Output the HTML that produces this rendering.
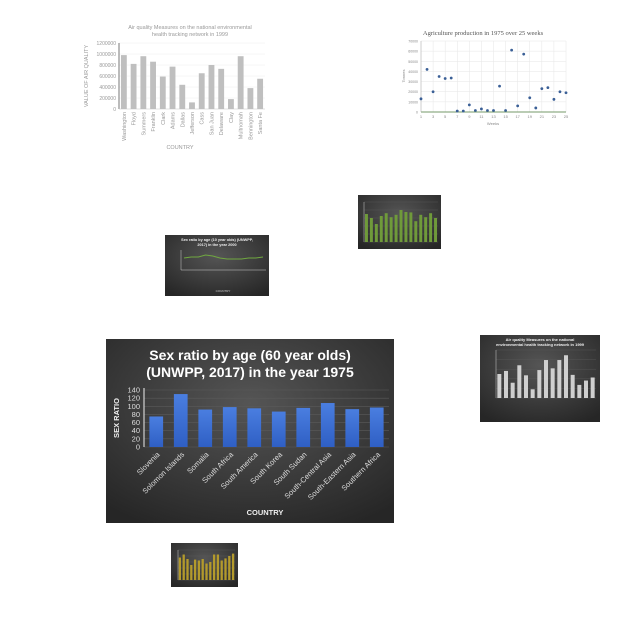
<!DOCTYPE html>
<html><head><meta charset="utf-8"><style>
html,body{margin:0;padding:0;background:#fff;width:640px;height:640px;overflow:hidden}
svg{display:block}
</style></head><body>
<svg id="s" width="640" height="640" xmlns="http://www.w3.org/2000/svg">
<defs>
<radialGradient id="dg" cx="50%" cy="35%" r="75%"><stop offset="0" stop-color="#555"/><stop offset="1" stop-color="#262626"/></radialGradient>
<linearGradient id="bb" x1="0" y1="0" x2="0" y2="1"><stop offset="0" stop-color="#4a7ee0"/><stop offset="1" stop-color="#2f5fc4"/></linearGradient>
</defs>
</svg>
<script>
// ---- main chart data
const mainCats=["Slovenia","Solomon Islands","Somalia","South Africa","South America","South Korea","South Sudan","South-Central Asia","South-Eastern Asia","Southern Africa"];
const mainVals=[75,130,92,98,95,87,96,108,93,97];
const mainTicks=[0,20,40,60,80,100,120,140];
// ---- air quality (top-left)
const aqCats=["Washington","Floyd","Summers","Franklin","Clark","Adams","Dallas","Jefferson","Cass","San Juan","Delaware","Clay","Multnomah","Bennington","Santa Fe"];
const aqVals=[980000,820000,960000,860000,590000,770000,440000,120000,650000,800000,730000,180000,960000,380000,550000];
const aqTicks=[0,200000,400000,600000,800000,1000000,1200000];
// ---- agriculture scatter (top-right)
const agWeeks=[1,2,3,4,5,6,7,8,9,10,11,12,13,14,15,16,17,18,19,20,21,22,23,24,25];
const agVals=[13000,42000,20000,35000,33000,33500,1000,1000,7000,1500,3000,1500,1500,25500,1500,61000,6000,57000,14000,4000,23000,24000,12500,20000,19000];
const agYTicks=[0,10000,20000,30000,40000,50000,60000,70000];
const agXTicks=[1,3,5,7,9,11,13,15,17,19,21,23,25];
// ---- small dark charts
const green1Vals=[70,60,45,65,72,62,68,80,75,74,52,68,62,72,60];
const line2Vals=[12,13,13,15,14,12,11,11,11,12,12,13];
const aq3Vals=[55,62,35,75,52,20,64,87,68,87,98,53,30,40,47];
const gold4Vals=[75,85,70,50,68,65,70,55,60,85,85,65,72,80,88];

const S=document.getElementById('s');const NS='http://www.w3.org/2000/svg';
function mk(t,a,p){const e=document.createElementNS(NS,t);for(const k in a)e.setAttribute(k,a[k]);(p||S).appendChild(e);return e;}
function tx(s,a,p){const e=mk('text',a,p);e.textContent=s;return e;}

// ===== Main chart =====
const mg=mk('g',{});


mk('rect',{x:106,y:339,width:288,height:184,fill:'url(#dg)'},mg);
const t1=tx('Sex ratio by age (60 year olds)',{x:250,y:360,'text-anchor':'middle','font-family':'Liberation Sans, sans-serif','font-size':14,'font-weight':'bold',fill:'#fff'},mg);


const t2=tx('(UNWPP, 2017) in the year 1975',{x:250,y:377,'text-anchor':'middle','font-family':'Liberation Sans, sans-serif','font-size':14,'font-weight':'bold',fill:'#fff'},mg);


const mX0=144,mX1=389,mY0=447,mY1=390,mMax=140;
const my=v=>mY0-(v/mMax)*(mY0-mY1);
const mbw=(mX1-mX0)/mainCats.length;
mainTicks.forEach(v=>{
  mk('line',{x1:mX0,x2:mX1,y1:my(v),y2:my(v),stroke:'#5a5a5a','stroke-width':0.6},mg);
  const l=tx(v,{x:140,y:my(v)+2.5,'text-anchor':'end','font-family':'Liberation Sans, sans-serif','font-size':7.5,fill:'#ddd'},mg);
  
  
});
mk('line',{x1:mX0,x2:mX0,y1:mY1-2,y2:mY0,stroke:'#eee','stroke-width':1},mg);
mainVals.forEach((v,i)=>{
  const cx=mX0+mbw*(i+0.5);
  const b=mk('rect',{x:cx-mbw*0.28,y:my(v),width:mbw*0.56,height:mY0-my(v),fill:'url(#bb)'},mg);
  
  
  const l=tx(mainCats[i],{x:cx+4,y:455,'text-anchor':'end','font-family':'Liberation Sans, sans-serif','font-size':7.5,fill:'#ddd',transform:`rotate(-45 ${cx+4} 455)`},mg);
  
  
});
const yt=tx('SEX RATIO',{x:119,y:418,'text-anchor':'middle','font-family':'Liberation Sans, sans-serif','font-size':7.5,'font-weight':'bold',fill:'#eee',transform:'rotate(-90 119 418)'},mg);


const xt=tx('COUNTRY',{x:265,y:515,'text-anchor':'middle','font-family':'Liberation Sans, sans-serif','font-size':7.5,'font-weight':'bold',fill:'#eee'},mg);



// ===== Air quality (top-left) =====
const ag=mk('g',{});


const F='Liberation Sans, sans-serif';
tx('Air quality Measures on the national environmental',{x:190,y:29,'text-anchor':'middle','font-family':F,'font-size':5.5,fill:'#999'},ag);
tx('health tracking network in 1999',{x:190,y:36,'text-anchor':'middle','font-family':F,'font-size':5.5,fill:'#999'},ag);
const aX0=119,aX1=265,aY0=109,aY1=43,aMax=1200000;
const ay=v=>aY0-(v/aMax)*(aY0-aY1);
const abw=(aX1-aX0)/aqCats.length;
aqTicks.forEach(v=>{
  mk('line',{x1:aX0,x2:aX1,y1:ay(v),y2:ay(v),stroke:'#eee','stroke-width':0.5},ag);
  tx(v,{x:116,y:ay(v)+2,'text-anchor':'end','font-family':F,'font-size':5,fill:'#999'},ag);
});
mk('line',{x1:aX0,x2:aX0,y1:aY1,y2:aY0,stroke:'#555','stroke-width':0.8},ag);
mk('line',{x1:aX0,x2:aX1,y1:aY0,y2:aY0,stroke:'#ccc','stroke-width':0.6},ag);
aqVals.forEach((v,i)=>{
  const cx=aX0+abw*(i+0.5);
  const b=mk('rect',{x:cx-abw*0.3,y:ay(v),width:abw*0.6,height:aY0-ay(v),fill:'#bfbfbf'},ag);
  
  
  tx(aqCats[i],{x:cx+2,y:112,'text-anchor':'end','font-family':F,'font-size':5.5,fill:'#999',transform:`rotate(-90 ${cx+2} 112)`},ag);
});
tx('VALUE OF AIR QUALITY',{x:88,y:76,'text-anchor':'middle','font-family':F,'font-size':5.5,fill:'#999',transform:'rotate(-90 88 76)'},ag);
tx('COUNTRY',{x:180,y:149,'text-anchor':'middle','font-family':F,'font-size':5.5,fill:'#999'},ag);

// ===== Agriculture scatter (top-right) =====
const sg=mk('g',{});


tx('Agriculture production in 1975 over 25 weeks',{x:483,y:35,'text-anchor':'middle','font-family':'Liberation Serif, serif','font-size':6.5,fill:'#555'},sg);
const sX0=421,sX1=566,sY0=112,sY1=41;
const sx=w=>sX0+(w-1)/24*(sX1-sX0);
const sy=v=>sY0-v/70000*(sY0-sY1);
agYTicks.forEach(v=>{
  mk('line',{x1:sX0,x2:sX1,y1:sy(v),y2:sy(v),stroke:'#e6e6e6','stroke-width':0.5},sg);
  tx(v,{x:418,y:sy(v)+1.5,'text-anchor':'end','font-family':F,'font-size':3.5,fill:'#888'},sg);
});
agXTicks.forEach(w=>{
  mk('line',{x1:sx(w),x2:sx(w),y1:sY1,y2:sY0,stroke:'#e6e6e6','stroke-width':0.5},sg);
  tx(w,{x:sx(w),y:118,'text-anchor':'middle','font-family':F,'font-size':4,fill:'#888'},sg);
});
mk('line',{x1:sX0,x2:sX1,y1:sY0,y2:sY0,stroke:'#4a7c3a','stroke-width':0.7},sg);
mk('line',{x1:sX0,x2:sX0,y1:sY1,y2:sY0,stroke:'#aaa','stroke-width':0.5},sg);
agVals.forEach((v,i)=>{
  const p=mk('circle',{cx:sx(agWeeks[i]),cy:sy(v),r:1.4,fill:'#3a5f96'},sg);
  
  
});
tx('Weeks',{x:493,y:125,'text-anchor':'middle','font-family':F,'font-size':4,fill:'#888'},sg);
tx('Tonnes',{x:405,y:76,'text-anchor':'middle','font-family':F,'font-size':4,fill:'#888',transform:'rotate(-90 405 76)'},sg);

// ===== small dark thumbnails =====
function thumb(name,x,y,w,h,vals,max,color,px0,px1,py0,py1,title){
  const g=mk('g',{});
  
  
  mk('rect',{x:x,y:y,width:w,height:h,fill:'url(#dg)'},g);
  if(title) title.forEach((t,k)=>tx(t,{x:x+w/2,y:y+6+k*5,'text-anchor':'middle','font-family':F,'font-size':4,'font-weight':'bold',fill:'#eee'},g));
  const bw=(px1-px0)/vals.length;
  for(let k=0;k<=5;k++) mk('line',{x1:px0,x2:px1,y1:py0-k*(py0-py1)/5,y2:py0-k*(py0-py1)/5,stroke:'#5a5a5a','stroke-width':0.4},g);
  mk('line',{x1:px0,x2:px0,y1:py1,y2:py0,stroke:'#ccc','stroke-width':0.5},g);
  vals.forEach((v,i)=>{
    const hh=v/max*(py0-py1);
    const b=mk('rect',{x:px0+bw*(i+0.2),y:py0-hh,width:bw*0.6,height:hh,fill:color},g);
    
    
  });
  return g;
}
thumb('green-bar-thumbnail',358,195,83,54,green1Vals,100,'#6f9a3a',364,438,242,202,null);
thumb('air-quality-dark-thumbnail',480,335,120,87,aq3Vals,110,'#cfcfcf',496,596,398,350,['Air quality Measures on the national','environmental health tracking network in 1999']);
thumb('gold-bar-thumbnail',171,543,67,44,gold4Vals,100,'#b39a2c',178,235,580,550,null);

// line thumbnail
const lg=mk('g',{});


mk('rect',{x:165,y:235,width:104,height:61,fill:'url(#dg)'},lg);
tx('Sex ratio by age (10 year olds) (UNWPP,',{x:217,y:241,'text-anchor':'middle','font-family':F,'font-size':3.8,'font-weight':'bold',fill:'#eee'},lg);
tx('2017) in the year 2000',{x:217,y:246,'text-anchor':'middle','font-family':F,'font-size':3.8,'font-weight':'bold',fill:'#eee'},lg);
const lx0=181,lx1=266,ly0=270,ly1=250;
mk('line',{x1:lx0,x2:lx0,y1:ly1,y2:ly0,stroke:'#ccc','stroke-width':0.5},lg);
mk('line',{x1:lx0,x2:lx1,y1:ly0,y2:ly0,stroke:'#ccc','stroke-width':0.5},lg);
const pts=line2Vals.map((v,i)=>[lx0+3+i*(lx1-lx0-6)/(line2Vals.length-1),ly0-v/20*(ly0-ly1)]);
const pl=mk('polyline',{points:pts.map(p=>p.join(',')).join(' '),fill:'none',stroke:'#70a840','stroke-width':1},lg);


tx('COUNTRY',{x:223,y:292,'text-anchor':'middle','font-family':F,'font-size':3,fill:'#ccc'},lg);
</script>
</body></html>
